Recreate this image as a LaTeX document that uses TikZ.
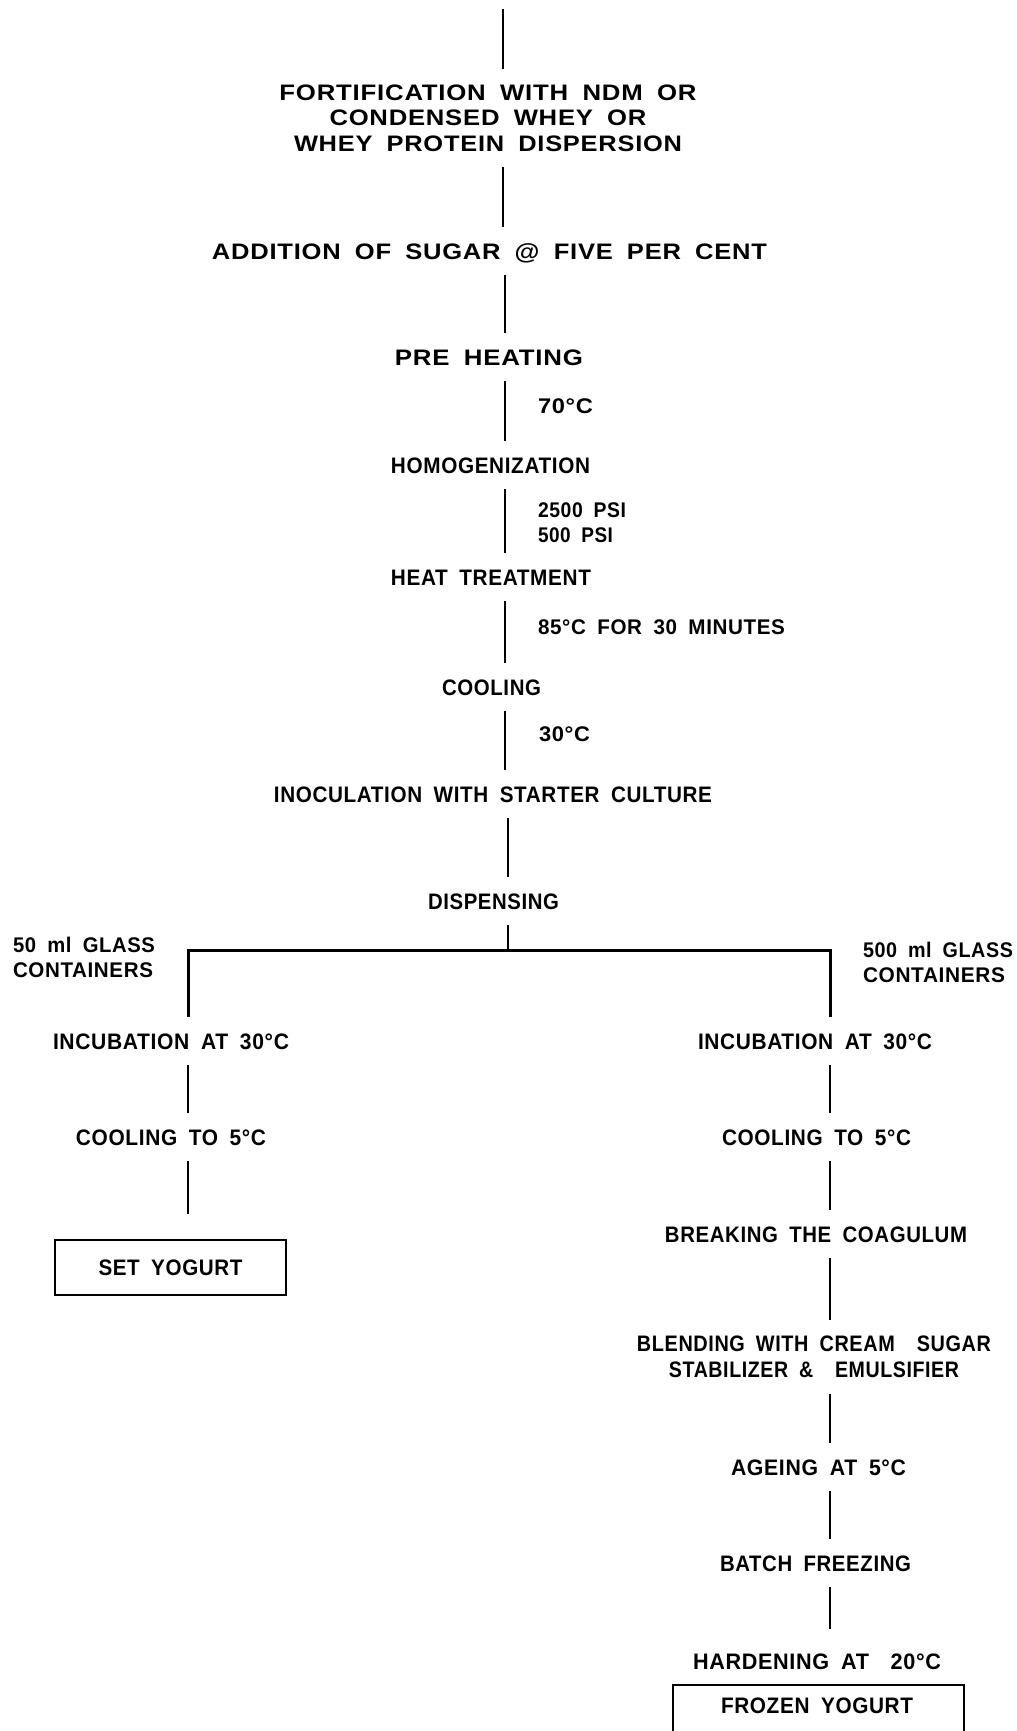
\documentclass[tikz,border=0pt]{standalone}
\usepackage{fontspec}
\setmainfont{Liberation Sans}[LetterSpace=3, WordSpace=1.8]
\newcommand\fw[2]{\resizebox{\dimexpr #1pt/2\relax}{\height}{#2}}
\begin{document}
\begin{tikzpicture}[x=0.5pt,y=-0.5pt,
  lab/.style={font=\bfseries\fontsize{11.2}{12.75}\selectfont, text height=8pt, text depth=0pt, inner xsep=0pt, inner ysep=8pt, outer sep=0pt},
  mlab/.style={font=\bfseries\fontsize{11.2}{12.75}\selectfont, align=center, inner xsep=0pt, inner ysep=8pt, outer sep=0pt},
  side/.style={font=\bfseries\fontsize{10.6}{12.5}\selectfont, align=left, anchor=west, inner sep=0pt, outer sep=0pt},
  conn/.style={line width=1.2pt},
  yogbox/.style={draw, line width=1.3pt, minimum width=115.5pt, minimum height=27.5pt, inner sep=0pt},
]
\clip (0,0) rectangle (1017,1731);
\fill[white] (0,0) rectangle (1017,1731);

% guide coordinates for the vertical lines
\coordinate (top) at (503,9);
\coordinate (mx) at (505,0);
\coordinate (dx) at (508,0);
\coordinate (lx) at (188,0);
\coordinate (rx) at (830,0);
\coordinate (split) at (508,950);

% main column
\node[mlab] (fort) at (488,118) {\fw{417}{FORTIFICATION WITH NDM OR}\\\fw{317}{CONDENSED WHEY OR}\\\fw{388}{WHEY PROTEIN DISPERSION}};
\node[lab] (sugar) at (489.5,251) {\fw{555}{ADDITION OF SUGAR @ FIVE PER CENT}};
\node[lab] (pre) at (489,357) {\fw{188}{PRE HEATING}};
\node[lab] (homo) at (490.5,465) {\fw{199}{HOMOGENIZATION}};
\node[lab] (heat) at (491,577) {\fw{200}{HEAT TREATMENT}};
\node[lab] (cool) at (491.5,687) {\fw{99}{COOLING}};
\node[lab] (inoc) at (493,794) {\fw{438}{INOCULATION WITH STARTER CULTURE}};
\node[lab] (disp) at (493.5,901) {\fw{131}{DISPENSING}};

% condition labels
\node[side] (c70) at (538,406) {\fw{55}{70°C}};
\node[side] (cpsi) at (538,523) {\fw{88}{2500 PSI}\\\fw{75}{500 PSI}};
\node[side] (c85) at (538,627) {\fw{247}{85°C FOR 30 MINUTES}};
\node[side] (c30) at (539,734) {\fw{51}{30°C}};

% branch labels
\node[side] (lcont) at (13,957.5) {\fw{142}{50 ml GLASS}\\\fw{140}{CONTAINERS}};
\node[side] (rcont) at (863,962.5) {\fw{150}{500 ml GLASS}\\\fw{142}{CONTAINERS}};

% left branch
\node[lab] (lincu) at (171,1041) {\fw{236}{INCUBATION AT 30°C}};
\node[lab] (lcool) at (171,1137) {\fw{190}{COOLING TO 5°C}};
\node[yogbox, font=\bfseries\fontsize{11.2}{12.75}\selectfont] (set) at (170.5,1267.5) {\fw{144}{SET YOGURT}};

% right branch
\node[lab] (rincu) at (815,1041) {\fw{234}{INCUBATION AT 30°C}};
\node[lab] (rcool) at (816.5,1137) {\fw{189}{COOLING TO 5°C}};
\node[lab] (brk) at (816,1234) {\fw{302}{BREAKING THE COAGULUM}};
\node[mlab] (blend) at (814,1357) {\fw{354}{BLENDING WITH CREAM\ \ SUGAR}\\\fw{290}{STABILIZER \&\ \ EMULSIFIER}};
\node[lab] (age) at (818.5,1467) {\fw{175}{AGEING AT 5°C}};
\node[lab] (batch) at (815.5,1563) {\fw{191}{BATCH FREEZING}};
\node[lab] (hard) at (817,1661) {\fw{248}{HARDENING AT\quad 20°C}};
\node[lab] (frozen) at (817,1705) {\fw{192}{FROZEN YOGURT}};

% frozen yogurt box (runs off the bottom edge)
\draw[line width=1.3pt] (673,1750) -- (673,1685) -- (964,1685) -- (964,1750);

% connectors, main column
\draw[conn] (top) -- (fort.north -| top);
\draw[conn] (fort.south -| top) -- (sugar.north -| top);
\draw[conn] (sugar.south -| mx) -- (pre.north -| mx);
\draw[conn] (pre.south -| mx) -- (homo.north -| mx);
\draw[conn] (homo.south -| mx) -- (heat.north -| mx);
\draw[conn] (heat.south -| mx) -- (cool.north -| mx);
\draw[conn] (cool.south -| mx) -- (inoc.north -| mx);
\draw[conn] (inoc.south -| dx) -- (disp.north -| dx);
\draw[conn] (disp.south -| dx) -- (split);
\draw[line width=1.5pt] (lincu.north -| lx) -- (lx |- split) -- (rx |- split) -- (rincu.north -| rx);

% left branch connectors
\draw[conn] (lincu.south -| lx) -- (lcool.north -| lx);
\draw[conn, shorten >=12.5pt] (lcool.south -| lx) -- (set.north -| lx);

% right branch connectors
\draw[conn] (rincu.south -| rx) -- (rcool.north -| rx);
\draw[conn] (rcool.south -| rx) -- (brk.north -| rx);
\draw[conn] (brk.south -| rx) -- (blend.north -| rx);
\draw[conn] (blend.south -| rx) -- (age.north -| rx);
\draw[conn] (age.south -| rx) -- (batch.north -| rx);
\draw[conn, shorten >=4pt] (batch.south -| rx) -- (hard.north -| rx);
\end{tikzpicture}
\end{document}
